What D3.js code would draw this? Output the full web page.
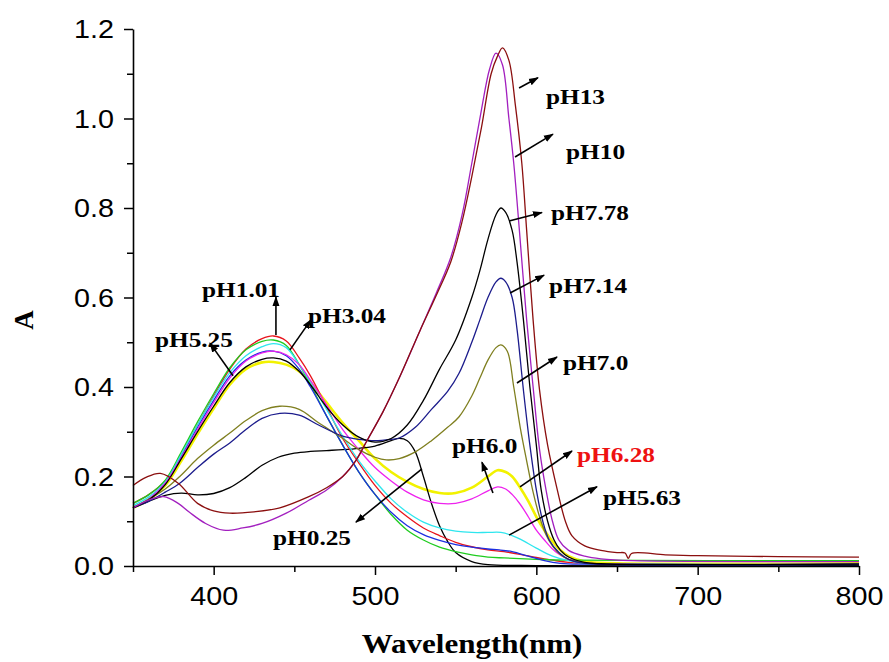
<!DOCTYPE html>
<html>
<head>
<meta charset="utf-8">
<script src="https://cdn.jsdelivr.net/npm/d3@7"></script>
<style>
  html, body { margin: 0; padding: 0; background: #ffffff; }
  svg { display: block; }
</style>
</head>
<body>
<svg id="chart" width="889" height="662"></svg>
<script>
// ---------------- DATA (wavelength nm, absorbance A) ----------------
const pH0_25 = [[350,0.13],[360,0.145],[370,0.158],[380,0.163],[390,0.159],[400,0.162],[410,0.175],[420,0.198],[430,0.225],[440,0.243],[450,0.252],[460,0.256],[470,0.258],[480,0.26],[490,0.263],[500,0.268],[510,0.28],[515,0.285],[520,0.28],[525,0.255],[530,0.2],[535,0.14],[540,0.09],[545,0.055],[550,0.03],[560,0.01],[570,0.003],[600,0.001],[800,0.001]];
const pH1_01 = [[350,0.14],[360,0.16],[370,0.19],[380,0.25],[390,0.315],[400,0.38],[410,0.44],[420,0.485],[430,0.508],[437,0.514],[445,0.503],[453,0.465],[460,0.425],[470,0.355],[480,0.285],[490,0.23],[500,0.18],[510,0.14],[520,0.11],[530,0.085],[540,0.068],[550,0.053],[560,0.043],[570,0.036],[580,0.032],[590,0.026],[600,0.019],[610,0.013],[620,0.008],[640,0.005],[800,0.004]];
const pH3_04 = [[350,0.14],[360,0.16],[370,0.192],[380,0.255],[390,0.322],[400,0.385],[410,0.443],[420,0.483],[430,0.502],[437,0.505],[445,0.493],[453,0.45],[460,0.405],[470,0.335],[480,0.27],[490,0.21],[500,0.16],[510,0.115],[520,0.08],[530,0.058],[540,0.042],[550,0.032],[560,0.025],[570,0.02],[580,0.018],[600,0.015],[620,0.013],[800,0.012]];
const pH5_25 = [[350,0.13],[360,0.15],[370,0.185],[380,0.245],[390,0.31],[400,0.37],[410,0.425],[420,0.46],[430,0.478],[437,0.48],[445,0.47],[453,0.44],[460,0.4],[470,0.335],[480,0.27],[490,0.21],[500,0.16],[510,0.12],[520,0.09],[530,0.07],[540,0.057],[550,0.048],[560,0.042],[570,0.038],[577,0.036],[585,0.032],[595,0.022],[605,0.012],[615,0.006],[630,0.004],[800,0.003]];
const pH5_63 = [[350,0.135],[360,0.155],[370,0.188],[380,0.25],[390,0.315],[400,0.377],[410,0.432],[420,0.47],[430,0.49],[437,0.497],[445,0.488],[453,0.45],[460,0.41],[470,0.35],[480,0.29],[490,0.235],[500,0.19],[510,0.15],[520,0.12],[530,0.098],[540,0.085],[550,0.078],[560,0.075],[570,0.075],[578,0.075],[585,0.068],[590,0.06],[600,0.04],[610,0.022],[620,0.012],[630,0.006],[650,0.004],[800,0.004]];
const pH6_0 = [[350,0.13],[360,0.15],[370,0.185],[380,0.243],[390,0.305],[400,0.365],[410,0.42],[420,0.458],[430,0.476],[437,0.48],[445,0.472],[453,0.45],[460,0.415],[470,0.36],[480,0.305],[490,0.26],[500,0.22],[510,0.19],[520,0.165],[530,0.148],[540,0.14],[550,0.14],[560,0.15],[570,0.168],[576,0.177],[581,0.172],[585,0.16],[590,0.138],[595,0.11],[600,0.08],[605,0.058],[610,0.038],[615,0.024],[620,0.015],[630,0.007],[650,0.004],[800,0.004]];
const pH6_28 = [[350,0.13],[360,0.148],[370,0.18],[380,0.235],[390,0.295],[400,0.352],[410,0.405],[420,0.44],[430,0.455],[437,0.456],[445,0.45],[453,0.435],[460,0.41],[470,0.365],[480,0.32],[490,0.28],[500,0.24],[510,0.21],[520,0.188],[530,0.172],[540,0.163],[550,0.163],[560,0.175],[570,0.2],[576,0.214],[581,0.21],[585,0.2],[590,0.175],[595,0.145],[600,0.11],[605,0.08],[610,0.055],[615,0.035],[620,0.022],[630,0.01],[650,0.006],[800,0.006]];
const pH7_0 = [[350,0.13],[360,0.15],[370,0.172],[379,0.2],[390,0.24],[400,0.27],[410,0.297],[420,0.325],[430,0.347],[441,0.357],[453,0.35],[465,0.32],[478,0.29],[490,0.26],[500,0.243],[507,0.237],[515,0.24],[525,0.255],[535,0.28],[545,0.31],[552,0.333],[560,0.38],[565,0.42],[570,0.46],[575,0.488],[578,0.494],[582,0.48],[586,0.4],[590,0.31],[594,0.235],[598,0.165],[602,0.11],[606,0.07],[610,0.045],[615,0.025],[620,0.015],[630,0.007],[800,0.005]];
const pH7_14 = [[350,0.13],[360,0.145],[370,0.165],[379,0.185],[390,0.22],[400,0.25],[410,0.275],[420,0.305],[430,0.33],[441,0.341],[453,0.337],[465,0.315],[480,0.29],[490,0.283],[500,0.28],[510,0.283],[515,0.286],[525,0.31],[535,0.35],[545,0.39],[552,0.43],[560,0.5],[565,0.55],[570,0.6],[575,0.635],[578,0.643],[581,0.635],[585,0.6],[588,0.53],[592,0.393],[596,0.27],[600,0.17],[604,0.1],[608,0.058],[614,0.03],[620,0.015],[630,0.006],[800,0.004]];
const pH7_78 = [[350,0.13],[360,0.148],[370,0.182],[380,0.24],[390,0.3],[400,0.357],[410,0.41],[420,0.445],[430,0.462],[437,0.465],[445,0.458],[453,0.435],[461,0.4],[470,0.355],[480,0.315],[490,0.288],[500,0.277],[510,0.285],[520,0.315],[530,0.37],[540,0.44],[550,0.505],[560,0.6],[565,0.66],[570,0.73],[575,0.785],[578,0.8],[581,0.79],[585,0.75],[588,0.68],[592,0.55],[596,0.4],[600,0.27],[603,0.17],[607,0.1],[611,0.058],[615,0.035],[620,0.02],[630,0.008],[640,0.005],[800,0.004]];
const pH10 = [[350,0.13],[360,0.148],[369,0.155],[378,0.14],[385,0.12],[395,0.095],[406,0.08],[418,0.085],[430,0.095],[445,0.118],[459,0.147],[470,0.17],[480,0.2],[488,0.235],[495,0.28],[505,0.345],[515,0.42],[528,0.527],[538,0.61],[547,0.69],[554,0.785],[560,0.9],[566,1.02],[571,1.11],[575,1.146],[579,1.12],[583,1.0],[586,0.9],[589.5,0.75],[594,0.55],[598,0.4],[602,0.26],[606,0.17],[610,0.1],[614,0.058],[620,0.035],[630,0.022],[640,0.016],[660,0.012],[800,0.01]];
const pH13 = [[350,0.18],[358,0.198],[367,0.207],[378,0.185],[390,0.14],[400,0.123],[410,0.118],[425,0.121],[441,0.13],[459,0.155],[470,0.175],[480,0.2],[488,0.235],[495,0.28],[505,0.345],[515,0.42],[528,0.527],[538,0.605],[547,0.68],[554,0.77],[560,0.87],[566,0.98],[572,1.1],[576,1.14],[579,1.158],[583,1.13],[587,1.03],[591,0.9],[594,0.75],[598,0.55],[602,0.393],[607,0.27],[613,0.17],[618,0.1],[622,0.068],[630,0.045],[640,0.035],[650,0.03],[655,0.029],[657,0.017],[659,0.028],[680,0.025],[700,0.023],[750,0.021],[800,0.02]];

const seriesNames  = ["pH6.28","pH0.25","pH1.01","pH3.04","pH5.25","pH5.63","pH6.0","pH7.0","pH7.14","pH7.78","pH10","pH13"];
const seriesData   = [pH6_28, pH0_25, pH1_01, pH3_04, pH5_25, pH5_63, pH6_0, pH7_0, pH7_14, pH7_78, pH10, pH13];
const seriesColors = ["#f2f200","#000000","#e8141c","#1fcc1f","#1c2ee0","#2ee6ee","#ee22ee","#7f7f1f","#1c1c8c","#000000","#a21fbf","#8b0f0f"];
const seriesWidths = [2.6,1.3,1.3,1.3,1.3,1.3,1.3,1.3,1.3,1.3,1.3,1.3];

const xMajorTicks = [400,500,600,700,800];
const xMinorTicks = [350,450,550,650,750];
const yMajorTicks = [0.0,0.2,0.4,0.6,0.8,1.0,1.2];
const yMinorTicks = [0.1,0.3,0.5,0.7,0.9,1.1];

// annotation labels: text, text anchor position (nm, A), arrow from (nm, A) to (nm, A), colour
const annoText   = ["pH13","pH10","pH7.78","pH7.14","pH7.0","pH6.28","pH6.0","pH5.63","pH0.25","pH1.01","pH3.04","pH5.25"];
const annoTextPos = [[606.0,1.032],[618.4,0.909],[609.1,0.773],[607.9,0.610],[616.5,0.438],[625.2,0.232],[547.7,0.253],[641.3,0.136],[436.8,0.047],[392.8,0.601],[458.5,0.543],[363.6,0.489]];
const annoArrowFrom = [[589.3,1.068],[586.8,0.914],[583.1,0.771],[583.7,0.610],[588.0,0.409],[589.9,0.177],[573.1,0.163],[583.1,0.069],[529.1,0.217],[438.6,0.516],[447.3,0.483],[412.0,0.425]];
const annoArrowTo   = [[601.0,1.091],[610.3,0.965],[603.5,0.790],[604.8,0.650],[612.8,0.467],[622.1,0.257],[566.3,0.232],[637.6,0.177],[488.2,0.098],[438.6,0.601],[460.3,0.550],[397.7,0.498]];
const annoColors = ["#000","#000","#000","#000","#000","#ee1111","#000","#000","#000","#000","#000","#000"];

// ---------------- CHART ----------------
const svg = d3.select("#chart");
const x = d3.scaleLinear().domain([350, 800]).range([133, 859]);
const y = d3.scaleLinear().domain([0, 1.2]).range([566, 29]);
const STRETCH = 1.15;

const defs = svg.append("defs");
defs.append("marker")
  .attr("id", "arrowhead")
  .attr("viewBox", "0 0 10 10")
  .attr("refX", 9).attr("refY", 5)
  .attr("markerWidth", 10).attr("markerHeight", 10)
  .attr("markerUnits", "userSpaceOnUse")
  .attr("orient", "auto")
  .append("path")
  .attr("d", "M0,1.5 L10,5 L0,8.5 Z")
  .attr("fill", "#000");

// curves
const line = d3.line()
  .x(d => x(d[0]))
  .y(d => y(d[1]))
  .curve(d3.curveCatmullRom.alpha(0.5));

const curves = svg.append("g").attr("class", "curves");
seriesData.forEach((data, i) => {
  curves.append("path")
    .datum(data)
    .attr("d", line)
    .attr("fill", "none")
    .attr("stroke", seriesColors[i])
    .attr("stroke-width", seriesWidths[i])
    .attr("stroke-linejoin", "round");
});

// axes
const tickFont = "'Liberation Sans', Arial, sans-serif";
const xAxis = svg.append("g").attr("transform", "translate(0,566)")
  .call(d3.axisBottom(x).tickValues(xMajorTicks).tickSize(9).tickSizeOuter(0).tickFormat(d3.format("d")));
const xMinor = svg.append("g").attr("transform", "translate(0,566)")
  .call(d3.axisBottom(x).tickValues(xMinorTicks).tickSize(6).tickSizeOuter(0).tickFormat(""));
const yAxis = svg.append("g").attr("transform", "translate(133,0)")
  .call(d3.axisLeft(y).tickValues(yMajorTicks).tickSize(9).tickSizeOuter(0).tickFormat(d3.format(".1f")));
const yMinor = svg.append("g").attr("transform", "translate(133,0)")
  .call(d3.axisLeft(y).tickValues(yMinorTicks).tickSize(6).tickSizeOuter(0).tickFormat(""));

[xAxis, xMinor, yAxis, yMinor].forEach(g => {
  g.selectAll("path.domain").attr("stroke", "#000").attr("stroke-width", 1.6);
  g.selectAll(".tick line").attr("stroke", "#000").attr("stroke-width", 1.5);
});
xMinor.select("path.domain").remove();
yMinor.select("path.domain").remove();

xAxis.selectAll(".tick text")
  .attr("font-family", tickFont).attr("font-size", 25).attr("fill", "#000")
  .attr("dy", null).attr("y", 39)
  .attr("transform", `scale(${STRETCH},1)`);
yAxis.selectAll(".tick text")
  .attr("font-family", tickFont).attr("font-size", 25).attr("fill", "#000")
  .attr("x", 0).attr("dy", "0.35em")
  .attr("transform", `translate(-19,0) scale(${STRETCH},1)`);

// axis titles
const serif = "'Liberation Serif', 'Times New Roman', serif";
svg.append("text")
  .attr("transform", `translate(472,653) scale(${STRETCH},1)`)
  .attr("text-anchor", "middle")
  .attr("font-family", serif).attr("font-weight", "bold").attr("font-size", 27)
  .attr("fill", "#000")
  .text("Wavelength(nm)");
svg.append("text")
  .attr("transform", "translate(33,320) rotate(-90)")
  .attr("text-anchor", "middle")
  .attr("font-family", serif).attr("font-weight", "bold").attr("font-size", 27)
  .attr("fill", "#000")
  .text("A");

// annotations
const anno = svg.append("g").attr("class", "annotations");
annoText.forEach((t, i) => {
  const f = annoArrowFrom[i], to = annoArrowTo[i];
  anno.append("line")
    .attr("x1", x(f[0])).attr("y1", y(f[1]))
    .attr("x2", x(to[0])).attr("y2", y(to[1]))
    .attr("stroke", "#000").attr("stroke-width", 1.6)
    .attr("marker-end", "url(#arrowhead)");
  anno.append("text")
    .attr("transform", `translate(${x(annoTextPos[i][0])},${y(annoTextPos[i][1])}) scale(${STRETCH},1)`)
    .attr("font-family", serif).attr("font-weight", "bold").attr("font-size", 22)
    .attr("fill", annoColors[i])
    .text(t);
});
</script>
</body>
</html>
